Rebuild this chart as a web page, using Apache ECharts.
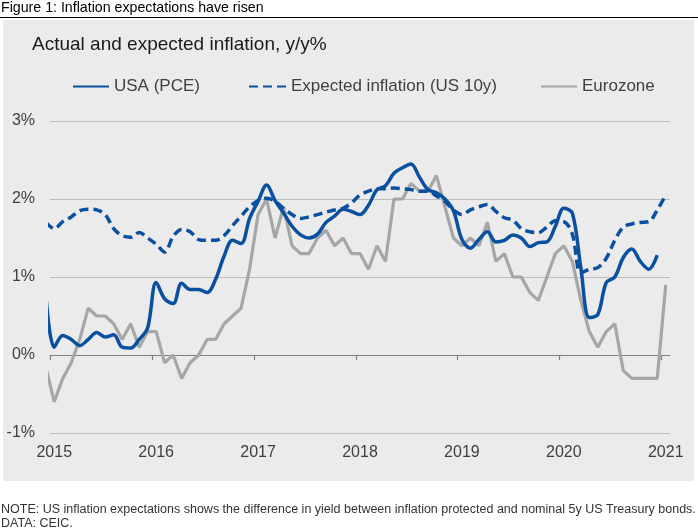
<!DOCTYPE html>
<html><head><meta charset="utf-8">
<script src="https://cdn.jsdelivr.net/npm/echarts@6/dist/echarts.min.js"></script>
<style>html,body{margin:0;padding:0;background:#fff}#c{width:698px;height:531px}</style>
</head><body><div id="c"></div>
<script>
// Monthly data, first entry = Dec 2014, last = Jan 2021
const years = ['2015', '2016', '2017', '2018', '2019', '2020', '2021'];
const firstMonthOffset = -1; // Dec 2014 relative to Jan 2015

const usaPce = [0.8,
  0.1, 0.25, 0.2, 0.12, 0.2, 0.29, 0.23, 0.26, 0.1, 0.09, 0.2, 0.35,
  0.93, 0.72, 0.66, 0.92, 0.84, 0.84, 0.8, 0.97, 1.27, 1.47, 1.43, 1.75,
  1.97, 2.18, 1.98, 1.82, 1.65, 1.54, 1.5, 1.55, 1.7, 1.78, 1.87, 1.84,
  1.8, 1.92, 2.12, 2.17, 2.33, 2.4, 2.45, 2.28, 2.12, 2.08, 2.0, 1.85,
  1.48, 1.37, 1.48, 1.58, 1.45, 1.47, 1.54, 1.5, 1.39, 1.44, 1.45, 1.65,
  1.88, 1.82, 1.12, 0.48, 0.52, 0.93, 1.0, 1.25, 1.36, 1.2, 1.1, 1.28,
  null];

const expected = [1.7,
  1.62, 1.71, 1.77, 1.85, 1.87, 1.86, 1.8, 1.62, 1.53, 1.51, 1.57, 1.5,
  1.42, 1.32, 1.52, 1.61, 1.58, 1.48, 1.47, 1.47, 1.53, 1.66, 1.78, 1.9,
  1.98, 2.01, 1.97, 1.88, 1.8, 1.75, 1.77, 1.8, 1.83, 1.86, 1.88, 1.95,
  2.05, 2.1, 2.13, 2.13, 2.14, 2.13, 2.12, 2.1, 2.1, 2.04, 1.97, 1.86,
  1.8, 1.86, 1.9, 1.93, 1.84, 1.76, 1.73, 1.62, 1.58, 1.57, 1.64, 1.72,
  1.71, 1.55, 1.05, 1.1, 1.12, 1.24, 1.47, 1.64, 1.68, 1.7, 1.71, 1.86,
  2.05];

const eurozone = [-0.15,
  -0.6, -0.3, -0.1, 0.2, 0.6, 0.5, 0.5, 0.4, 0.2, 0.4, 0.1, 0.3,
  0.3, -0.1, 0.0, -0.3, -0.1, 0.0, 0.2, 0.2, 0.4, 0.5, 0.6, 1.1,
  1.8, 2.0, 1.5, 1.9, 1.4, 1.3, 1.3, 1.5, 1.6, 1.4, 1.5, 1.3,
  1.3, 1.1, 1.4, 1.2, 2.0, 2.0, 2.2, 2.1, 2.1, 2.3, 1.9, 1.5,
  1.4, 1.5, 1.4, 1.7, 1.2, 1.3, 1.0, 1.0, 0.8, 0.7, 1.0, 1.3,
  1.4, 1.2, 0.7, 0.3, 0.1, 0.3, 0.4, -0.2, -0.3, -0.3, -0.3, -0.3,
  0.9];

const names = ['USA (PCE)', 'Expected inflation (US 10y)', 'Eurozone'];

// month slots: month k of the axis occupies [k, k+1]; value drawn at the slot centre
function toPoints(arr) { return arr.map((v, i) => [firstMonthOffset + i + 0.5, v]); }
const yearTicks = years.map((y, k) => k * 12);
const yearLabelPos = years.map((y, k) => k * 12 + 0.5);
const axisMax = (years.length - 1) * 12 + 1;

const font = "'Liberation Sans', Arial, sans-serif";
const blue = '#0a50a0';
const grey = '#a6a6a6';
const labelColor = '#404040';

const legendBase = {
  top: 78, padding: 0, itemWidth: 36, itemHeight: 14,
  itemStyle: { opacity: 0, color: 'rgba(0,0,0,0)', borderWidth: 0 },
  textStyle: { fontSize: 17, color: labelColor, fontFamily: font }
};

const chart = echarts.init(document.getElementById('c'));
chart.setOption({
  animation: false,
  backgroundColor: '#ffffff',
  textStyle: { fontFamily: font },
  title: [
    { text: 'Figure 1: Inflation expectations have risen', left: 1, top: 1, padding: 0,
      textStyle: { fontSize: 14.2, fontWeight: 'normal', color: '#000', fontFamily: font } },
    { text: 'Actual and expected inflation, y/y%', left: 32, top: 35, padding: 0,
      textStyle: { fontSize: 19, fontWeight: 'normal', color: '#1a1a1a', fontFamily: font } }
  ],
  legend: [
    Object.assign({}, legendBase, { data: [names[0]], left: 72 }),
    Object.assign({}, legendBase, { data: [names[1]], left: 248, itemWidth: 37 }),
    Object.assign({}, legendBase, { data: [names[2]], left: 540 })
  ],
  grid: { left: 50, right: 28, top: 121, bottom: 98, containLabel: false },
  xAxis: [
    { type: 'value', min: 0, max: axisMax, position: 'bottom',
      axisLine: { show: true, onZero: true, lineStyle: { color: '#808080', width: 1.2 } },
      axisTick: { show: true, customValues: yearTicks, length: 5, lineStyle: { color: '#808080', width: 1.2 } },
      axisLabel: { show: false }, splitLine: { show: false } },
    { type: 'value', min: 0, max: axisMax, position: 'bottom',
      axisLine: { show: false, onZero: false }, axisTick: { show: false }, splitLine: { show: false },
      axisLabel: { show: true, customValues: yearLabelPos, margin: 12, fontSize: 16, color: labelColor, fontFamily: font,
        formatter: v => years[Math.round((v - 0.5) / 12)] } }
  ],
  yAxis: {
    type: 'value', min: -1, max: 3, interval: 1,
    axisLine: { show: false }, axisTick: { show: false },
    axisLabel: { formatter: '{value}%', fontSize: 16, color: labelColor, margin: 15, fontFamily: font },
    splitLine: { lineStyle: { color: '#bdbdbd', width: 1 } }
  },
  graphic: [
    { type: 'rect', z: -100, silent: true, shape: { x: 3, y: 20, width: 691, height: 461 }, style: { fill: '#ebebeb' } },
    { type: 'line', silent: true, shape: { x1: 0, y1: 17.5, x2: 698, y2: 17.5 }, style: { stroke: '#000', lineWidth: 1 } },
    { type: 'text', silent: true, x: 1, y: 510, style: { text: 'NOTE: US inflation expectations shows the difference in yield between inflation protected and nominal 5y US Treasury bonds.', font: '12.5px ' + font, fill: '#333', verticalAlign: 'middle' } },
    { type: 'text', silent: true, x: 1, y: 524, style: { text: 'DATA: CEIC.', font: '12.5px ' + font, fill: '#333', verticalAlign: 'middle' } }
  ],
  series: [
    { name: names[2], type: 'line', xAxisIndex: 0, data: toPoints(eurozone), smooth: false, symbol: 'none',
      lineStyle: { color: grey, width: 3.2 }, itemStyle: { color: grey }, z: 2 },
    { name: names[1], type: 'line', xAxisIndex: 0, data: toPoints(expected), smooth: 0.35, symbol: 'none',
      lineStyle: { color: blue, width: 3.5, type: [9, 5] }, itemStyle: { color: blue }, z: 3 },
    { name: names[0], type: 'line', xAxisIndex: 0, data: toPoints(usaPce), smooth: 0.35, symbol: 'none',
      lineStyle: { color: blue, width: 3.5 }, itemStyle: { color: blue }, z: 4 }
  ]
});
</script></body></html>
